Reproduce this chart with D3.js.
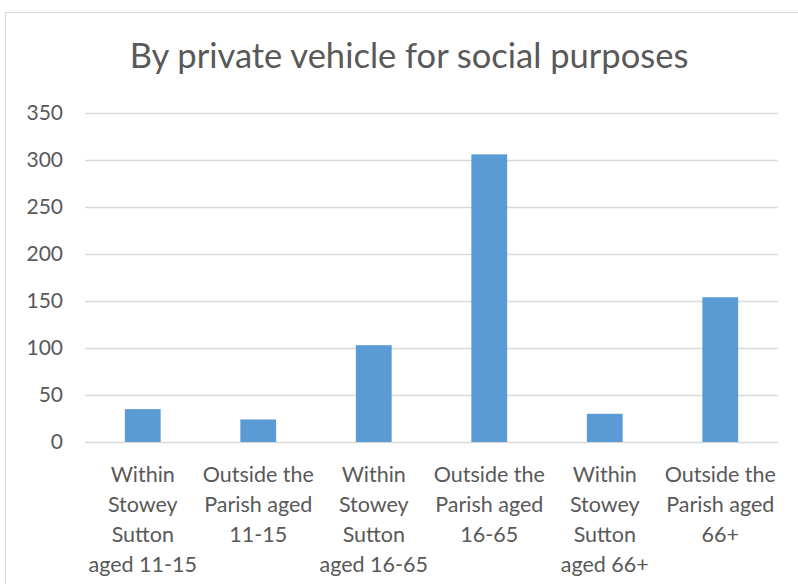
<!DOCTYPE html>
<html>
<head>
<meta charset="utf-8">
<script src="https://cdn.jsdelivr.net/npm/d3@7"></script>
<style>
  body { margin: 0; background: #fff; }
  text { font-family: Lato, "Open Sans", sans-serif; fill: #595959; }
</style>
</head>
<body>
<div id="chart"></div>
<script>
// chart data
var title = "By private vehicle for social purposes";
var categories = [
  "Within|Stowey|Sutton|aged 11-15",
  "Outside the|Parish aged|11-15",
  "Within|Stowey|Sutton|aged 16-65",
  "Outside the|Parish aged|16-65",
  "Within|Stowey|Sutton|aged 66+",
  "Outside the|Parish aged|66+"
];
var values = [35, 24, 103, 306, 30, 154];
var yTicks = [0, 50, 100, 150, 200, 250, 300, 350];

var width = 798, height = 584;
var margin = { top: 113, right: 20, bottom: 142, left: 85 };

var svg = d3.select("#chart").append("svg")
    .attr("width", width)
    .attr("height", height);

// outer chart border
svg.append("rect")
    .attr("x", 5.5).attr("y", 12.5)
    .attr("width", width + 10).attr("height", height + 10)
    .attr("fill", "#fff")
    .attr("stroke", "#d9d9d9");

var x = d3.scaleBand()
    .domain(categories)
    .range([margin.left, width - margin.right])
    .paddingInner(0.69)
    .paddingOuter(0.345);

var y = d3.scaleLinear()
    .domain([0, 350])
    .range([height - margin.bottom, margin.top]);

// gridlines
svg.append("g")
    .selectAll("line")
    .data(yTicks)
    .enter()
    .append("line")
    .attr("x1", margin.left)
    .attr("x2", width - margin.right)
    .attr("y1", function(d) { return Math.round(y(d)) + 0.5; })
    .attr("y2", function(d) { return Math.round(y(d)) + 0.5; })
    .attr("stroke", "#d9d9d9")
    .attr("stroke-width", 1.5);

// y axis labels
var yAxis = d3.axisLeft(y).tickValues(yTicks).tickSize(0).tickPadding(22);
var gy = svg.append("g")
    .attr("transform", "translate(" + margin.left + ",0)")
    .call(yAxis);
gy.select(".domain").remove();
gy.selectAll("text")
    .style("font-size", "21px")
    .attr("fill", "#595959");

// bars
svg.append("g")
    .selectAll("rect")
    .data(values)
    .enter()
    .append("rect")
    .attr("x", function(d, i) { return x(categories[i]); })
    .attr("y", function(d) { return y(d); })
    .attr("width", x.bandwidth())
    .attr("height", function(d) { return y(0) - y(d); })
    .attr("fill", "#5b9bd5");

// category labels
var xAxis = d3.axisBottom(x).tickSize(0).tickFormat("");
var gx = svg.append("g")
    .attr("transform", "translate(0," + y(0) + ")")
    .call(xAxis);
gx.select(".domain").remove();
gx.selectAll(".tick").each(function(d) {
    var lines = d.split("|");
    var t = d3.select(this).append("text")
        .attr("text-anchor", "middle")
        .style("font-size", "21.5px")
        .attr("fill", "#595959");
    lines.forEach(function(line, i) {
        t.append("tspan")
            .attr("x", 0)
            .attr("y", 40 + i * 30)
            .text(line);
    });
});

// title
svg.append("text")
    .attr("x", 409)
    .attr("y", 68)
    .attr("text-anchor", "middle")
    .style("font-size", "34.5px")
    .text(title);
</script>
</body>
</html>
